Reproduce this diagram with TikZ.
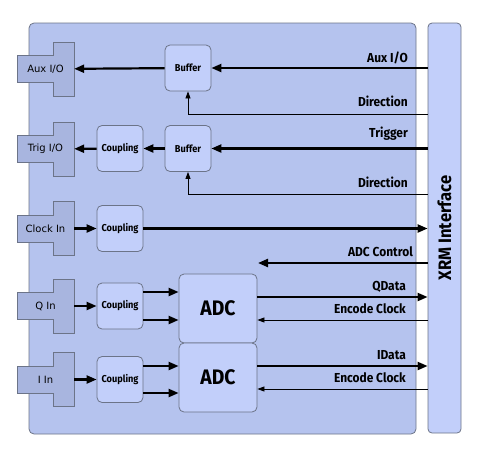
\documentclass[tikz,border=0pt]{standalone}
\usepackage{fontspec}
\setmainfont{DejaVu Sans}
\newfontfamily\labelfont[FakeStretch=0.92]{Fira Sans}
\usetikzlibrary{arrows.meta}

\definecolor{boardblue}{HTML}{B5C3EE}
\definecolor{blkblue}{HTML}{C2CFFA}
\definecolor{plugblue}{HTML}{A8B5DF}
\definecolor{edgegray}{HTML}{6C7488}

\tikzset{
  board/.style={draw=edgegray, fill=boardblue, rounded corners=5pt, line width=.8pt, minimum width=387pt, minimum height=411pt},
  xrmbar/.style={draw=edgegray, fill=blkblue, rounded corners=4pt, line width=.8pt, minimum width=33pt, minimum height=410pt, inner sep=0pt, font=\labelfont\bfseries\fontsize{18}{21}\selectfont},
  plugshape/.style={draw=edgegray, fill=plugblue, line width=.8pt},
  plug/.style={minimum width=57pt, minimum height=27pt, inner sep=0pt, font=\fontsize{10}{12}\selectfont},
  blk/.style={draw=edgegray, fill=blkblue, rounded corners=5pt, line width=.8pt, minimum width=46pt, minimum height=46pt, inner sep=0pt, font=\labelfont\bfseries\fontsize{10}{12}\selectfont},
  adcblk/.style={blk, minimum width=78pt, minimum height=69pt, font=\labelfont\bfseries\fontsize{21}{24}\selectfont},
  siglabel/.style={anchor=base east, inner sep=0pt, font=\labelfont\bfseries\fontsize{13}{15}\selectfont},
  bus/.style={line width=2.2pt, -{Triangle[length=10pt,width=8pt]}},
  ctl/.style={line width=.8pt, -{Triangle[length=7pt,width=5pt]}}
}

\begin{document}
\begin{tikzpicture}[x=1pt, y=-1pt]
\useasboundingbox (0,0) rectangle (479,456);
\node[board] (board) at (222.5,228.5) {};
\node[xrmbar] (xrm) at (444.5,228) {\rotatebox{90}{XRM Interface}};

\foreach \y in {69,149,228.5,306,379.5}
  \filldraw[plugshape] (17,{\y-13.5}) -- (53,{\y-13.5}) -- (53,{\y-27}) -- (74,{\y-27})
    -- (74,{\y+27}) -- (53,{\y+27}) -- (53,{\y+13.5}) -- (17,{\y+13.5}) -- cycle;

\node[plug] (auxio) at (45.5,69) {Aux I/O};
\node[plug] (trigio) at (45.5,149) {Trig I/O};
\node[plug] (clkin) at (45.5,228.5) {Clock In};
\node[plug] (qin) at (45.5,306) {Q In};
\node[plug] (iin) at (45.5,379.5) {I In};

\node[blk] (bufaux) at (188,68) {Buffer};
\node[blk] (buftrig) at (188,148.5) {Buffer};
\node[blk] (cpltrig) at (120,148.5) {Coupling};
\node[blk] (cplclk) at (120,228.5) {Coupling};
\node[blk] (cplq) at (120,306) {Coupling};
\node[blk] (cpli) at (120,379.5) {Coupling};
\node[adcblk] (adcq) at (218,308.5) {ADC};
\node[adcblk] (adci) at (218,377.5) {ADC};

\coordinate (diraux) at (428,114);
\coordinate (dirtrig) at (428,194);
\coordinate (adcctl) at (258,263);

\draw[bus] (xrm.west |- bufaux) -- (bufaux);
\draw[bus] (bufaux) -- (auxio);
\draw[ctl] (diraux) -| (bufaux);
\draw[bus] (xrm.west |- buftrig) -- (buftrig);
\draw[bus] (buftrig) -- (cpltrig);
\draw[bus] (cpltrig) -- (trigio);
\draw[ctl] (dirtrig) -| (buftrig);
\draw[bus] (clkin) -- (cplclk);
\draw[bus] (cplclk) -- (xrm.west |- cplclk);
\draw[bus] (adcctl -| xrm.west) -- (adcctl);

\draw[bus] (qin) -- (cplq);
\draw[bus] ([yshift=14pt]cplq.east) -- ([yshift=14pt]cplq.east -| adcq.west);
\draw[bus] ([yshift=-14pt]cplq.east) -- ([yshift=-14pt]cplq.east -| adcq.west);
\draw[bus] (iin) -- (cpli);
\draw[bus] ([yshift=13.5pt]cpli.east) -- ([yshift=13.5pt]cpli.east -| adci.west);
\draw[bus] ([yshift=-13.5pt]cpli.east) -- ([yshift=-13.5pt]cpli.east -| adci.west);

\draw[bus] ([yshift=11.5pt]adcq.east) -- ([yshift=11.5pt]adcq.east -| xrm.west);
\draw[ctl] ([yshift=-11.5pt]adcq.east -| xrm.west) -- ([yshift=-11.5pt]adcq.east);
\draw[bus] ([yshift=11.5pt]adci.east) -- ([yshift=11.5pt]adci.east -| xrm.west);
\draw[ctl] ([yshift=-11.5pt]adci.east -| xrm.west) -- ([yshift=-11.5pt]adci.east);

\node[siglabel] (lauxio) at (408,62) {Aux I/O};
\node[siglabel] (ldiraux) at (408,106) {Direction};
\node[siglabel] (ltrig) at (408,137) {Trigger};
\node[siglabel] (ldirtrig) at (408,187) {Direction};
\node[siglabel] (ladcctl) at (413,256) {ADC Control};
\node[siglabel] (lqdata) at (406,290) {QData};
\node[siglabel] (lencq) at (406,313) {Encode Clock};
\node[siglabel] (lidata) at (406,359) {IData};
\node[siglabel] (lenci) at (406,382) {Encode Clock};
\end{tikzpicture}
\end{document}
